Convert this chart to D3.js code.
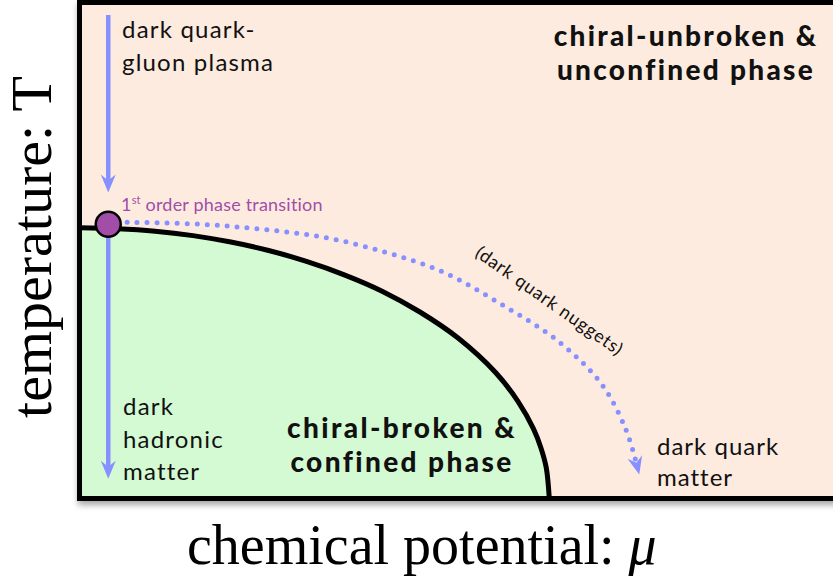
<!DOCTYPE html>
<html>
<head>
<meta charset="utf-8">
<script src="https://cdn.jsdelivr.net/npm/d3@7"></script>
<style>
  body { margin: 0; background: #fff; }
  .lbl { font-family: Lato, "Open Sans", sans-serif; fill: #111; }
  .axis-title { font-family: "Liberation Serif", "Times New Roman", serif; fill: #000; }
</style>
</head>
<body>
<div id="chart"></div>
<script>
// phase boundary (chemical potential mu, temperature T), both in units of the frame
const boundaryMu = [0, 0.05, 0.10, 0.15, 0.20, 0.25, 0.30, 0.35, 0.40, 0.45, 0.50, 0.55, 0.58, 0.60, 0.61, 0.617, 0.621];
const boundaryT  = [0.546, 0.544, 0.539, 0.530, 0.517, 0.500, 0.478, 0.451, 0.418, 0.376, 0.324, 0.254, 0.195, 0.141, 0.102, 0.062, 0];

// dotted trajectory towards dark quark nuggets
const nuggetMu = [0.063, 0.159, 0.239, 0.322, 0.403, 0.480, 0.557, 0.632, 0.690, 0.722, 0.737];
const nuggetT  = [0.557, 0.553, 0.543, 0.527, 0.497, 0.457, 0.392, 0.318, 0.231, 0.140, 0.066];

// cooling path at zero density (mu, T start, T end)
const coolingMu = 0.038;
const coolingTop = [0.975, 0.617];
const coolingBottom = [0.530, 0.040];

// first order transition point
const transitionPoint = [0.038, 0.553];

const labelPlasma = ['dark quark-', 'gluon plasma'];
const labelHadronic = ['dark', 'hadronic', 'matter'];
const labelUnbroken = ['chiral-unbroken &', 'unconfined phase'];
const labelBroken = ['chiral-broken &', 'confined phase'];
const labelQuarkMatter = ['dark quark', 'matter'];
const labelNuggets = '(dark quark nuggets)';

const width = 833;
const height = 579;

const peach = '#fdebdf';
const green = '#d4fad3';
const blue = '#8790ff';
const purple = '#a24ea8';

const svg = d3.select('#chart')
    .append('svg')
    .attr('width', width)
    .attr('height', height);

const x = d3.scaleLinear().domain([0, 1]).range([79.5, 836]);
const y = d3.scaleLinear().domain([0, 1]).range([498.5, 2.5]);

const defs = svg.append('defs');

const shadow = defs.append('filter')
    .attr('id', 'shadow')
    .attr('x', '-5%').attr('y', '-5%')
    .attr('width', '115%').attr('height', '115%');
shadow.append('feDropShadow')
    .attr('dx', 1).attr('dy', 4)
    .attr('stdDeviation', 3)
    .attr('flood-color', '#000')
    .attr('flood-opacity', 0.35);

defs.append('marker')
    .attr('id', 'head')
    .attr('viewBox', '-20 -10 22 20')
    .attr('refX', -9).attr('refY', 0)
    .attr('markerWidth', 22).attr('markerHeight', 20)
    .attr('markerUnits', 'userSpaceOnUse')
    .attr('orient', 'auto')
    .append('path')
    .attr('d', 'M0,0 L-18,-7.5 L-12,0 L-18,7.5 Z')
    .attr('fill', blue);

// frame background with shadow
svg.append('rect')
    .attr('x', x(0)).attr('y', y(1))
    .attr('width', x(1) - x(0)).attr('height', y(0) - y(1))
    .attr('fill', peach)
    .attr('stroke', '#000')
    .attr('stroke-width', 5)
    .attr('filter', 'url(#shadow)');

const boundary = boundaryMu.map((m, i) => [m, boundaryT[i]]);

// confined region
svg.append('path')
    .datum(boundary)
    .attr('d', d3.area()
        .x(d => x(d[0]))
        .y0(y(0))
        .y1(d => y(d[1]))
        .curve(d3.curveCatmullRom))
    .attr('fill', green);

// redraw frame border on top of the fill
svg.append('rect')
    .attr('x', x(0)).attr('y', y(1))
    .attr('width', x(1) - x(0)).attr('height', y(0) - y(1))
    .attr('fill', 'none')
    .attr('stroke', '#000')
    .attr('stroke-width', 5);

// cooling arrows
[coolingTop, coolingBottom].forEach(seg => {
    svg.append('line')
        .attr('x1', x(coolingMu)).attr('x2', x(coolingMu))
        .attr('y1', y(seg[0])).attr('y2', y(seg[1]) - 9)
        .attr('stroke', blue)
        .attr('stroke-width', 4.5)
        .attr('marker-end', 'url(#head)');
});

// phase boundary line
svg.append('path')
    .datum(boundary)
    .attr('d', d3.line()
        .x(d => x(d[0]))
        .y(d => y(d[1]))
        .curve(d3.curveCatmullRom))
    .attr('fill', 'none')
    .attr('stroke', '#000')
    .attr('stroke-width', 5);

// dotted nugget trajectory
const nugget = nuggetMu.map((m, i) => [m, nuggetT[i]]);
svg.append('path')
    .datum(nugget)
    .attr('d', d3.line()
        .x(d => x(d[0]))
        .y(d => y(d[1]))
        .curve(d3.curveCatmullRom))
    .attr('fill', 'none')
    .attr('stroke', blue)
    .attr('stroke-width', 5)
    .attr('stroke-linecap', 'round')
    .attr('stroke-dasharray', '0 10')
    .attr('marker-end', 'url(#head)');

// transition point
svg.append('circle')
    .attr('cx', x(transitionPoint[0]))
    .attr('cy', y(transitionPoint[1]))
    .attr('r', 12.5)
    .attr('fill', purple)
    .attr('stroke', '#000')
    .attr('stroke-width', 2.5);

const tr = svg.append('text')
    .attr('class', 'lbl')
    .attr('x', 121).attr('y', 211)
    .style('font-size', '18px')
    .style('letter-spacing', '0.2px')
    .style('fill', purple);
tr.append('tspan').text('1');
tr.append('tspan').attr('dy', -7).style('font-size', '11px').text('st');
tr.append('tspan').attr('dy', 7).text(' order phase transition');

function block(lines, px, py, dy, opts) {
    const t = svg.append('text')
        .attr('class', 'lbl')
        .attr('text-anchor', opts.anchor || 'start')
        .style('font-size', opts.size + 'px')
        .style('font-weight', opts.weight || 400)
        .style('letter-spacing', (opts.ls || 0) + 'px');
    lines.forEach((s, i) => {
        t.append('tspan').attr('x', px).attr('y', py + i * dy).text(s);
    });
    return t;
}

block(labelPlasma, 122, 38, 33, { size: 24, ls: 1.2 });
block(labelHadronic, 123, 415, 32.5, { size: 24, ls: 1.2 });
block(labelQuarkMatter, 657, 455, 31, { size: 24, ls: 1.0 });
block(labelUnbroken, 686, 46, 33.5, { size: 28, weight: 900, anchor: 'middle', ls: 2.3 });
block(labelBroken, 402, 438, 34, { size: 28, weight: 900, anchor: 'middle', ls: 2.4 });

svg.append('text')
    .attr('class', 'lbl')
    .attr('text-anchor', 'middle')
    .attr('transform', 'translate(546,306) rotate(35)')
    .style('font-size', '18px')
    .style('letter-spacing', '0.8px')
    .text(labelNuggets);

// axis titles
svg.append('text')
    .attr('class', 'axis-title')
    .attr('transform', 'translate(51,247) rotate(-90)')
    .attr('text-anchor', 'middle')
    .style('font-size', '58px')
    .text('temperature: T');

const xt = svg.append('text')
    .attr('class', 'axis-title')
    .attr('x', 187).attr('y', 564)
    .style('font-size', '56px');
xt.append('tspan').text('chemical potential: ');
xt.append('tspan').style('font-style', 'italic').text('μ');
</script>
</body>
</html>
